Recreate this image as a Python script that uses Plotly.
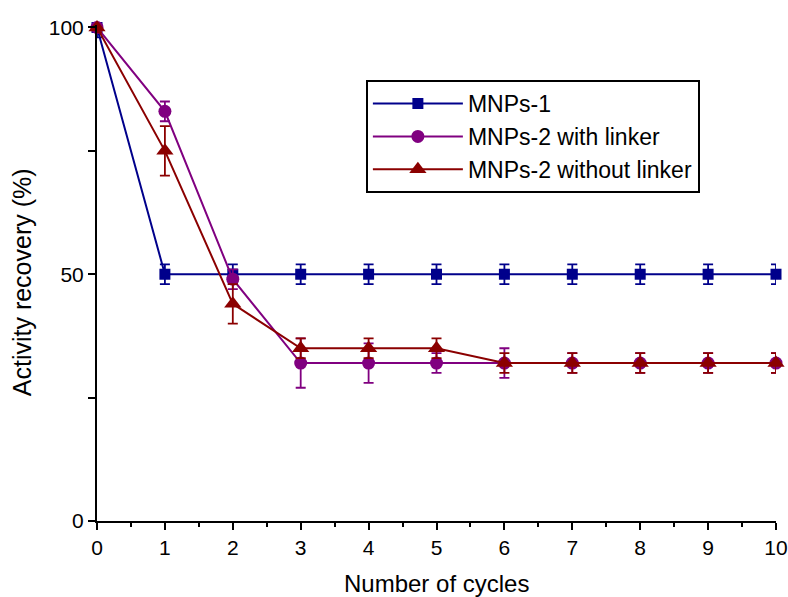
import plotly.graph_objects as go

cycles = [0, 1, 2, 3, 4, 5, 6, 7, 8, 9, 10]

mnps1 = [100, 50, 50, 50, 50, 50, 50, 50, 50, 50, 50]
mnps1_err = [2, 2, 2, 2, 2, 2, 2, 2, 2, 2, 2]

mnps2_linker = [100, 83, 49, 32, 32, 32, 32, 32, 32, 32, 32]
mnps2_linker_err = [1, 2, 2, 5, 4, 2, 3, 2, 2, 2, 2]

mnps2_nolinker = [100, 75, 44, 35, 35, 35, 32, 32, 32, 32, 32]
mnps2_nolinker_err = [1, 5, 4, 2, 2, 2, 2, 2, 2, 2, 2]

names = ["MNPs-1", "MNPs-2 with linker", "MNPs-2 without linker"]
colors = ["#00008B", "#800080", "#8B0000"]
symbols = ["square", "circle", "triangle-up"]
sizes = [11, 13, 15]

FONT = "Liberation Sans, Arial, sans-serif"

fig = go.Figure()
for name, ys, errs, col, sym, sz in zip(
    names,
    [mnps1, mnps2_linker, mnps2_nolinker],
    [mnps1_err, mnps2_linker_err, mnps2_nolinker_err],
    colors, symbols, sizes,
):
    fig.add_trace(go.Scatter(
        x=cycles, y=ys, name=name, mode="lines+markers",
        line=dict(color=col, width=2),
        marker=dict(color=col, symbol=sym, size=sz),
        error_y=dict(type="data", array=errs, visible=True, color=col,
                     thickness=1.8, width=5),
        cliponaxis=False,
    ))

fig.update_layout(
    width=788, height=597,
    margin=dict(l=97, r=12, t=25, b=76),
    plot_bgcolor="white", paper_bgcolor="white",
    font=dict(family=FONT, color="black"),
    showlegend=True,
    legend=dict(
        x=0.396, y=0.889, xanchor="left", yanchor="top",
        bordercolor="black", borderwidth=2, bgcolor="white",
        font=dict(size=23, family=FONT),
        tracegroupgap=0, itemwidth=90,
    ),
    annotations=[
        dict(text="Number of cycles", xref="paper", yref="paper",
             x=0.5, y=-0.127, xanchor="center", yanchor="middle",
             showarrow=False, font=dict(size=24, family=FONT)),
        dict(text="Activity recovery (%)", xref="paper", yref="paper",
             x=-0.110, y=0.482, xanchor="center", yanchor="middle",
             textangle=-90, showarrow=False, font=dict(size=25, family=FONT)),
    ],
)

fig.update_xaxes(
    range=[0, 10], tickmode="linear", tick0=0, dtick=1,
    showline=True, linecolor="black", linewidth=2, mirror=False,
    ticks="outside", ticklen=7, tickwidth=2, tickcolor="black",
    minor=dict(ticks="outside", ticklen=4, tickwidth=2, dtick=0.5, tickcolor="black"),
    showgrid=False, zeroline=False, automargin=False,
    tickfont=dict(size=21, family=FONT),
)
fig.update_yaxes(
    range=[0, 100.5], tickmode="array", tickvals=[0, 50, 100],
    showline=True, linecolor="black", linewidth=2, mirror=False,
    ticks="outside", ticklen=7, tickwidth=2, tickcolor="black",
    minor=dict(ticks="outside", ticklen=7, tickwidth=2, tickvals=[25, 75], tickcolor="black"),
    showgrid=False, zeroline=False, automargin=False,
    tickfont=dict(size=21, family=FONT),
)

fig.write_html("out.html")
